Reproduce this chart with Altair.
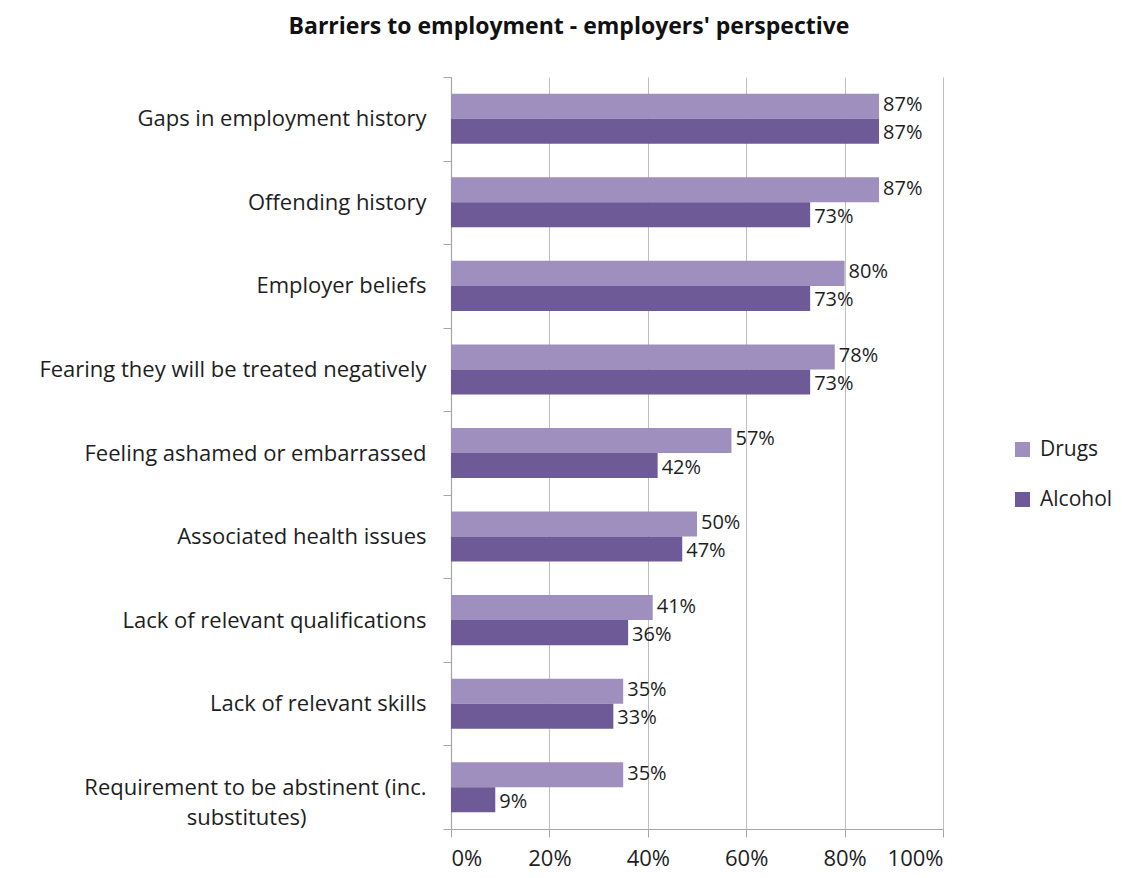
import altair as alt
import pandas as pd

categories = [
    "Gaps in employment history",
    "Offending history",
    "Employer beliefs",
    "Fearing they will be treated negatively",
    "Feeling ashamed or embarrassed",
    "Associated health issues",
    "Lack of relevant qualifications",
    "Lack of relevant skills",
    "Requirement to be abstinent (inc. substitutes)",
]
drugs = [87, 87, 80, 78, 57, 50, 41, 35, 35]
alcohol = [87, 73, 73, 73, 42, 47, 36, 33, 9]
series = ["Drugs", "Alcohol"]
colors = ["#9E8FBE", "#6E5A96"]
x_ticks = [0, 20, 40, 60, 80, 100]

rows = []
for c, d, a in zip(categories, drugs, alcohol):
    rows.append({"cat": c, "series": "Drugs", "value": d, "label": f"{d}%"})
    rows.append({"cat": c, "series": "Alcohol", "value": a, "label": f"{a}%"})
df = pd.DataFrame(rows)

FONT = "Open Sans"
TXT = "#1e1e1e"

pad = "\u00a0" * 21 + "\u200b"
label_expr = (
    "datum.label == 'Requirement to be abstinent (inc. substitutes)' ? "
    "['Requirement to be abstinent (inc.', 'substitutes)" + pad + "'] : datum.label"
)

y = alt.Y(
    "cat:N",
    sort=categories,
    title=None,
    scale=alt.Scale(paddingInner=0, paddingOuter=0),
    axis=alt.Axis(
        tickBand="extent",
        tickSize=8,
        tickColor="#A6A6A6",
        domainColor="#A6A6A6",
        labelFont=FONT,
        labelFontSize=22,
        labelColor=TXT,
        labelPadding=17,
        labelLimit=500,
        labelExpr=label_expr,
        labelLineHeight=30,
        grid=False,
    ),
)

x = alt.X(
    "value:Q",
    title=None,
    scale=alt.Scale(domain=[0, 100], nice=False),
    axis=alt.Axis(
        values=x_ticks,
        labelExpr="datum.value + '%'",
        tickSize=8,
        tickColor="#A6A6A6",
        domainColor="#A6A6A6",
        gridColor="#BFBFBF",
        labelFont=FONT,
        labelFontSize=22,
        labelColor=TXT,
        labelPadding=11,
    ),
)

off_scale = alt.Scale(paddingInner=0, paddingOuter=0.67)

bars = alt.Chart(df).mark_bar().encode(
    y=y,
    x=x,
    yOffset=alt.YOffset("series:N", sort=series, scale=off_scale),
    color=alt.Color(
        "series:N",
        sort=series,
        scale=alt.Scale(domain=series, range=colors),
        legend=alt.Legend(
            title=None,
            orient="none",
            legendX=561,
            legendY=362,
            symbolType="square",
            symbolSize=225,
            symbolStrokeWidth=0,
            labelFont=FONT,
            labelFontSize=21,
            labelColor=TXT,
            rowPadding=28,
            labelOffset=7,
        ),
    ),
)


def text_layer(name, dy):
    return (
        alt.Chart(df)
        .transform_filter(alt.datum.series == name)
        .mark_text(
            align="left", baseline="middle", dx=4, dy=dy, font=FONT, fontSize=20, color=TXT
        )
        .encode(
            y=alt.Y("cat:N", sort=categories),
            x=alt.X("value:Q"),
            yOffset=alt.YOffset("series:N", sort=series),
            text="label:N",
        )
    )


chart = (
    alt.layer(bars, text_layer("Drugs", -1), text_layer("Alcohol", 2))
    .properties(
        width=492,
        height=752,
        padding={"left": 443, "top": 69, "right": 171, "bottom": 41},
        autosize=alt.AutoSizeParams(type="none"),
        title=alt.TitleParams(
            "Barriers to employment - employers' perspective",
            font=FONT,
            fontSize=23,
            fontWeight="bold",
            color="#111111",
            anchor="middle",
            frame="group",
            dx=-128,
            offset=27,
        ),
    )
    .configure_view(stroke=None)
    .configure_axis(gridWidth=1, domainWidth=1.2)
)

chart.save("out.html", embed_options={"renderer": "svg", "actions": False})
